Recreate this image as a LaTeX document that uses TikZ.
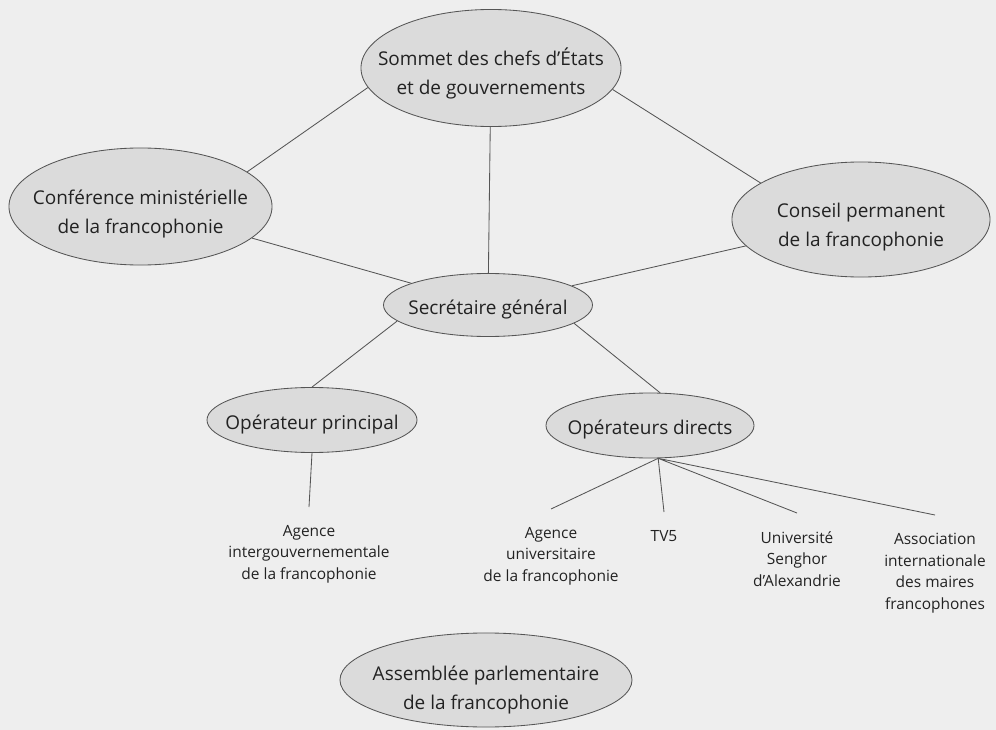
\documentclass[tikz,border=0pt]{standalone}
\usepackage{xcolor}
\usepackage{fontspec}
\setmainfont{Open Sans}
\usepackage{tikz}
\usetikzlibrary{shapes}
\definecolor{paper}{HTML}{EEEEEE}
\definecolor{blob}{HTML}{DBDBDB}
\definecolor{wire}{HTML}{555555}
\definecolor{ink}{HTML}{222222}
\newcommand{\blobtext}[2][4.6pt]{\raisebox{-#1}[\height][\depth]{\begin{tabular}{@{}c@{}}#2\end{tabular}}}
\tikzset{
	main node/.style={ellipse,draw=wire,fill=blob,line width=.6pt,
		inner xsep=-.6cm,inner ysep=0pt,
		text=ink,font=\fontsize{13.5}{20.5}\selectfont},
	leaf/.style={align=center,anchor=north,inner xsep=0pt,inner ysep=.45cm,text=ink,
		font=\fontsize{11}{15.3}\selectfont},
	link/.style={draw=wire,line width=.6pt}
}

\begin{document}
\begin{tikzpicture}[x=0.025cm,y=-0.025cm]
            \fill[paper] (0,0) rectangle (996,730);
            \useasboundingbox (0,0) rectangle (996,730);
            \node [main node,minimum width=6.5cm,minimum height=2.925cm] (1) at (491,68) {\blobtext{Sommet des chefs d'États\\et de gouvernements}};
            \node [main node,minimum width=6.575cm,minimum height=2.925cm] (2) at (140.5,206.5) {\blobtext{Conférence ministérielle\\de la francophonie}};
            \node [main node,minimum width=6.45cm,minimum height=2.875cm] (3) at (861,219.5) {\blobtext{Conseil permanent\\de la francophonie}};
            \node [main node,minimum width=5.225cm,minimum height=1.575cm] (4) at (488,305) {\blobtext[3pt]{Secrétaire général}};
            \node [main node,minimum width=5.25cm,minimum height=1.625cm] (5) at (312,420) {\blobtext[2.5pt]{Opérateur principal}};
            \node [main node,minimum width=5.2cm,minimum height=1.625cm] (6) at (650,425.5) {\blobtext[2.5pt]{Opérateurs directs}};
            \node [leaf] (7) at (309,507) {Agence\\intergouvernementale\\de la francophonie};
            \node [leaf] (8) at (551,509) {Agence\\universitaire\\de la francophonie};
            \node [leaf] (9) at (664,512) {TV5};
            \node [leaf] (10) at (797,513) {Université\\Senghor\\d'Alexandrie};
            \node [leaf] (11) at (935,515) {Association\\internationale\\des maires\\francophones};
            \node [main node,minimum width=7.3cm,minimum height=2.35cm] (12) at (486,680) {\blobtext[6.5pt]{Assemblée parlementaire\\de la francophonie}};
            \path[link] (1.189) -- (2.18)
              (1.350) -- (3.160.5)
              (1) -- (4)
              (2) -- (4)
              (3) -- (4)
              (4.190) -- (5.north)
              (4.348.6) -- (6.73)
              (5.south) -- (7.north)
              (6.284) -- (8.north)
              (6.284) -- (9.north)
              (6.284) -- (10.north)
              (6.284) -- (11.north);
          \end{tikzpicture}
\end{document}
